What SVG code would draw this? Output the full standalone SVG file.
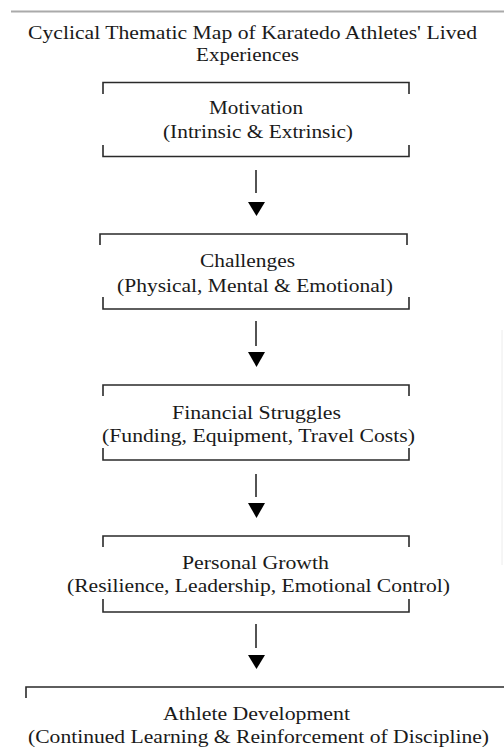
<svg xmlns="http://www.w3.org/2000/svg" width="504" height="751" viewBox="0 0 504 751">
<style>
text{font-family:"Liberation Serif","Times New Roman",serif;font-size:19px;fill:#1a1a1a}
.br{fill:none;stroke:#2a2a2a;stroke-width:1.6}
.ln{stroke:#1a1a1a;stroke-width:1.5}
.hd{fill:#000}
</style>
<rect width="504" height="751" fill="#fff"/>
<line x1="11" y1="11.5" x2="504" y2="11.5" stroke="#aaa" stroke-width="2"/>
<line x1="502" y1="330" x2="502" y2="565" stroke="#ececec" stroke-width="1"/>
<g id="title">
<text x="28" y="39" textLength="449" lengthAdjust="spacingAndGlyphs">Cyclical Thematic Map of Karatedo Athletes' Lived</text>
<text x="196" y="61" textLength="103" lengthAdjust="spacingAndGlyphs">Experiences</text>
</g>
<g id="motivation">
<path class="br" d="M103,94 V82.5 H409 V94"/>
<path class="br" d="M103,145 V156.5 H409 V145"/>
<text x="209" y="114" textLength="94" lengthAdjust="spacingAndGlyphs">Motivation</text>
<text x="163" y="138" textLength="190" lengthAdjust="spacingAndGlyphs">(Intrinsic &amp; Extrinsic)</text>
</g>
<g id="challenges">
<path class="br" d="M100,245 V234 H407 V245"/>
<path class="br" d="M103,297 V309 H409 V297"/>
<text x="200" y="267" textLength="95" lengthAdjust="spacingAndGlyphs">Challenges</text>
<text x="117" y="292" textLength="276" lengthAdjust="spacingAndGlyphs">(Physical, Mental &amp; Emotional)</text>
</g>
<g id="financial">
<path class="br" d="M103,396 V385 H409 V396"/>
<path class="br" d="M103,448 V460 H409 V448"/>
<text x="172" y="419" textLength="169" lengthAdjust="spacingAndGlyphs">Financial Struggles</text>
<text x="102" y="442" textLength="313" lengthAdjust="spacingAndGlyphs">(Funding, Equipment, Travel Costs)</text>
</g>
<g id="growth">
<path class="br" d="M103,547 V536 H409 V547"/>
<path class="br" d="M103,599 V612 H409 V599"/>
<text x="182" y="569" textLength="147" lengthAdjust="spacingAndGlyphs">Personal Growth</text>
<text x="67" y="592" textLength="383" lengthAdjust="spacingAndGlyphs">(Resilience, Leadership, Emotional Control)</text>
</g>
<g id="development">
<path class="br" d="M26,698 V687 H504"/>
<text x="163" y="720" textLength="187" lengthAdjust="spacingAndGlyphs">Athlete Development</text>
<text x="28" y="743" textLength="461" lengthAdjust="spacingAndGlyphs">(Continued Learning &amp; Reinforcement of Discipline)</text>
</g>
<g id="connectors">
<line class="ln" x1="256" y1="170" x2="256" y2="193"/>
<polygon class="hd" points="248,202 265,202 256.5,216"/>
<line class="ln" x1="256" y1="321" x2="256" y2="346"/>
<polygon class="hd" points="248,352 265,352 256.5,367"/>
<line class="ln" x1="256" y1="474" x2="256" y2="497"/>
<polygon class="hd" points="248,503 265,503 256.5,518"/>
<line class="ln" x1="256" y1="624" x2="256" y2="648"/>
<polygon class="hd" points="248,655 265,655 256.5,669"/>
</g>
</svg>
